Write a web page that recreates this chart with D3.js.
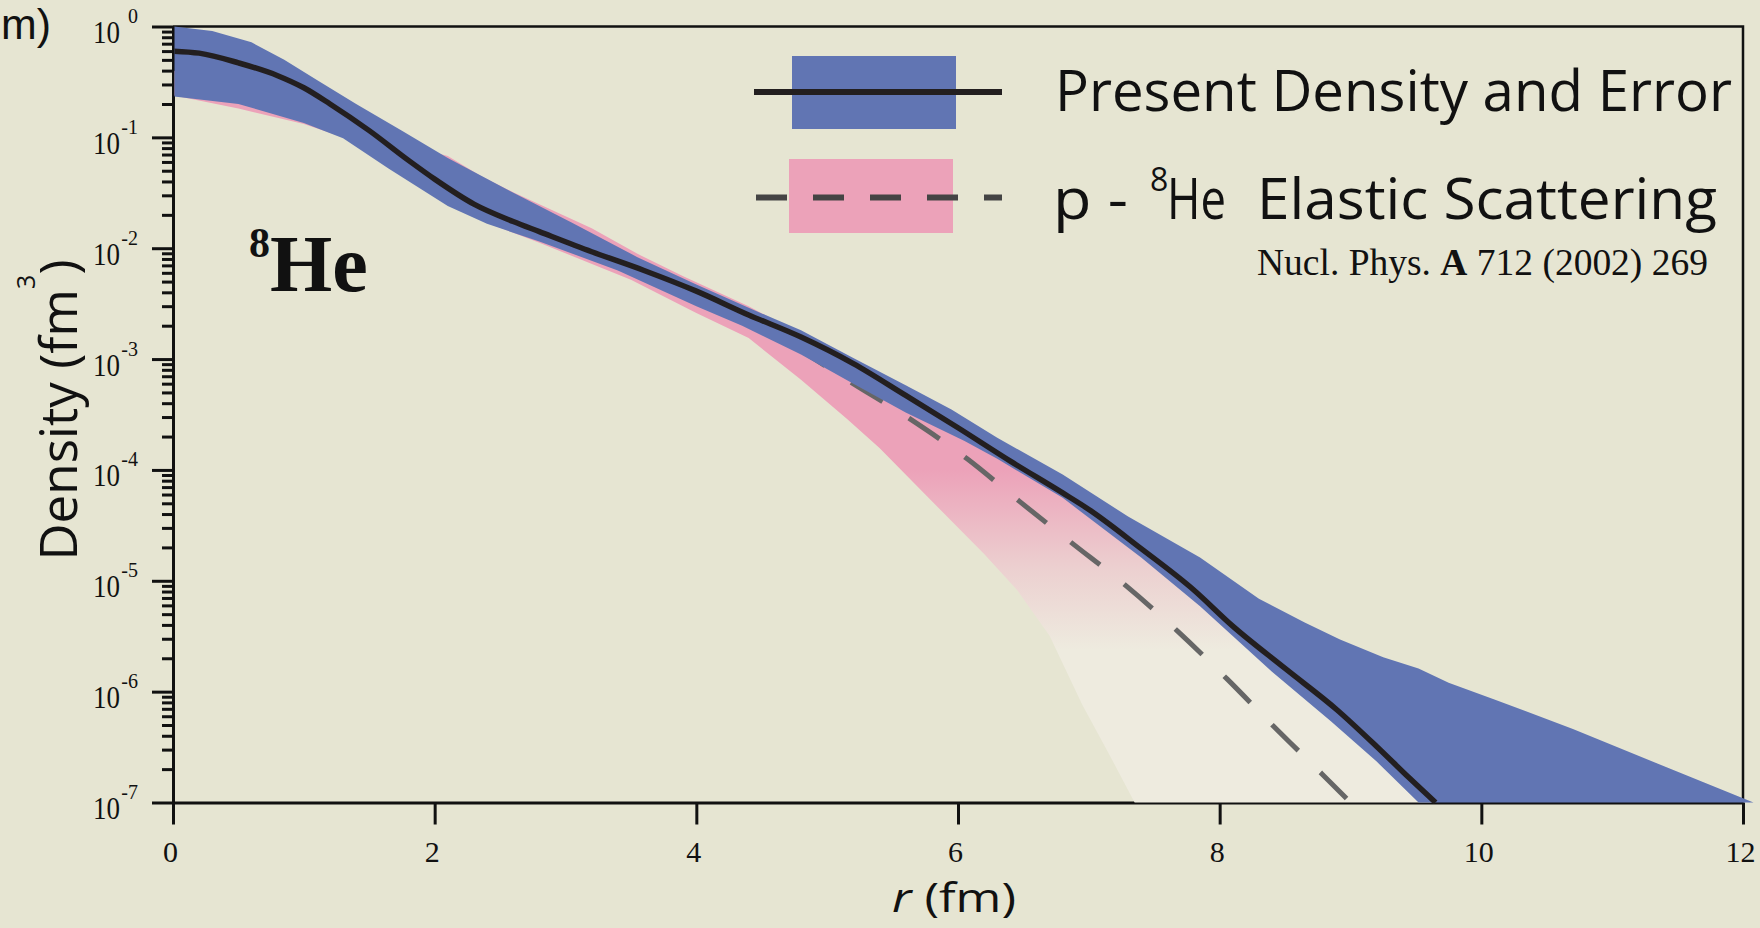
<!DOCTYPE html>
<html>
<head>
<meta charset="utf-8">
<script src="https://cdn.jsdelivr.net/npm/d3@7"></script>
<style>
  html, body { margin: 0; padding: 0; background: #e6e5d2; overflow: hidden; }
  svg { display: block; }
</style>
</head>
<body>
<svg id="chart" width="1760" height="928"></svg>
<script>
// ---- 8He matter density, r in fm, density in fm^-3 ----

// Present density (central curve)
const densityR = [0, 0.2, 0.5, 0.8, 1.0, 1.2, 1.5, 1.8, 2.0, 2.3, 2.6, 2.8, 3.2, 3.6, 4.0, 4.4, 4.8, 5.2, 5.6, 6.0, 6.4, 6.8, 7.0, 7.4, 7.8, 8.1, 8.5, 8.9, 9.2, 9.45, 9.65];
const densityVal = [0.60, 0.575, 0.47, 0.36, 0.28, 0.20, 0.115, 0.062, 0.042, 0.025, 0.0174, 0.0141, 0.0093, 0.0063, 0.0041, 0.0025, 0.00158, 9.1e-4, 4.7e-4, 2.4e-4, 1.2e-4, 6.2e-5, 4.4e-5, 1.95e-5, 8.3e-6, 3.9e-6, 1.62e-6, 6.8e-7, 3.2e-7, 1.66e-7, 1.0e-7];

// Error band of the present density
const errUpperR = [0, 0.3, 0.6, 0.85, 1.1, 1.4, 1.75, 2.1, 2.55, 3.05, 3.55, 4.0, 4.4, 4.8, 5.2, 5.6, 5.95, 6.3, 6.8, 7.3, 7.85, 8.3, 8.65, 8.92, 9.25, 9.52, 9.75, 10.1, 10.7, 11.35, 12.08];
const errUpper = [1.0, 0.91, 0.72, 0.50, 0.33, 0.20, 0.115, 0.065, 0.034, 0.017, 0.0083, 0.0047, 0.0029, 0.00182, 1.02e-3, 5.8e-4, 3.5e-4, 1.95e-4, 9.1e-5, 3.8e-5, 1.62e-5, 6.9e-6, 4.2e-6, 2.95e-6, 2.04e-6, 1.62e-6, 1.2e-6, 8.5e-7, 4.6e-7, 2.24e-7, 1.0e-7];
const errLowerR = [0, 0.5, 1.0, 1.3, 1.65, 2.1, 2.4, 2.8, 3.4, 4.0, 4.35, 4.8, 5.2, 5.6, 6.05, 6.3, 6.8, 7.4, 7.85, 8.4, 8.85, 9.2, 9.52, 12.08];
const errLower = [0.234, 0.20, 0.135, 0.098, 0.052, 0.024, 0.0166, 0.0115, 0.0063, 0.0030, 0.0020, 0.0011, 6.0e-4, 3.3e-4, 1.82e-4, 1.26e-4, 5.6e-5, 1.62e-5, 5.9e-6, 1.51e-6, 5.4e-7, 2.34e-7, 1.0e-7, 1.0e-7];

// p-8He elastic scattering: band and central (dashed) curve
const scatUpperR = [0, 0.5, 1.0, 1.5, 2.1, 2.35, 2.6, 2.9, 3.2, 3.55, 3.9, 4.4, 4.6, 5.0, 5.6, 6.2, 6.8, 7.4, 7.85, 8.4, 8.9, 9.2, 9.65];
const scatUpper = [0.398, 0.316, 0.19, 0.105, 0.068, 0.045, 0.032, 0.022, 0.0151, 0.0089, 0.0056, 0.0030, 0.00224, 0.0012, 4.4e-4, 1.66e-4, 6.0e-5, 1.74e-5, 7.4e-6, 2.0e-6, 6.8e-7, 3.2e-7, 1.0e-7];
const scatLowerR = [0, 0.5, 1.0, 1.3, 1.65, 2.1, 2.4, 2.8, 3.5, 4.0, 4.4, 4.8, 5.15, 5.4, 5.75, 6.2, 6.45, 6.7, 6.95, 7.15, 7.35];
const scatLower = [0.24, 0.182, 0.132, 0.100, 0.055, 0.025, 0.017, 0.0112, 0.0052, 0.0026, 0.00155, 6.5e-4, 2.9e-4, 1.58e-4, 6.0e-5, 1.74e-5, 8.3e-6, 3.2e-6, 7.6e-7, 2.8e-7, 1.0e-7];
const scatR = [0, 1, 2, 3, 4, 4.4, 4.8, 5.18, 5.63, 6.07, 6.47, 6.86, 7.29, 7.68, 8.06, 8.41, 8.78, 9.0];
const scatVal = [0.355, 0.178, 0.040, 0.0126, 0.0038, 0.00234, 0.0012, 6.2e-4, 2.9e-4, 1.26e-4, 5.2e-5, 2.24e-5, 8.9e-6, 3.5e-6, 1.29e-6, 4.9e-7, 1.82e-7, 1.0e-7];

// Axis ticks
const xTicks = [0, 2, 4, 6, 8, 10, 12];
const yExponents = [0, -1, -2, -3, -4, -5, -6, -7];

// ---- layout ----
const svg = d3.select("#chart");
const BG = "#e6e5d2", BLUE = "#6175b3", PINK = "#eca2b9", CREAM = "#eeebdf";
const SERIF = "'Liberation Serif', 'Times New Roman', serif";
const SANS = "'Open Sans', 'Noto Sans', sans-serif";

svg.append("rect").attr("width", 1760).attr("height", 928).attr("fill", BG);

const x = d3.scaleLinear().domain([0, 12]).range([173, 1743]);
const y = d3.scaleLog().domain([1e-7, 1]).range([802.5, 26.5]);

const defs = svg.append("defs");
defs.append("clipPath").attr("id", "plotClip")
  .append("rect").attr("x", 174.5).attr("y", 0).attr("width", 1600).attr("height", 803.5);
const grad = defs.append("linearGradient").attr("id", "scatFade")
  .attr("gradientUnits", "userSpaceOnUse").attr("x1", 0).attr("y1", 470).attr("x2", 0).attr("y2", 650);
grad.append("stop").attr("offset", 0).attr("stop-color", PINK);
grad.append("stop").attr("offset", 0.55).attr("stop-color", "#ecd0d0");
grad.append("stop").attr("offset", 1).attr("stop-color", CREAM);

// ---- axes ----
const yMajor = yExponents.map(k => Math.pow(10, k));
const yMinor = [];
for (let n = -7; n <= -1; n++) for (let k = 2; k <= 9; k++) yMinor.push(k * Math.pow(10, n));

const axisG = svg.append("g");
const yMinorG = axisG.append("g").attr("transform", "translate(173,0)")
  .call(d3.axisLeft(y).tickValues(yMinor).tickSize(11).tickSizeOuter(0).tickFormat(""));
const yMajorG = axisG.append("g").attr("transform", "translate(173,0)")
  .call(d3.axisLeft(y).tickValues(yMajor).tickSize(21).tickSizeOuter(0).tickFormat(""));
const xAxisG = axisG.append("g").attr("transform", "translate(0,802.5)")
  .call(d3.axisBottom(x).tickValues(xTicks).tickSize(22).tickSizeOuter(0).tickFormat(d3.format("d")));

[yMinorG, yMajorG, xAxisG].forEach(g => {
  g.selectAll("path.domain").attr("stroke", "#111").attr("stroke-width", 3);
  g.selectAll(".tick line").attr("stroke", "#111").attr("stroke-width", 3);
});
yMinorG.selectAll(".tick text").remove();
yMajorG.selectAll(".tick text").remove();
yMajorG.selectAll(".tick").each(function (d) {
  const g = d3.select(this);
  const k = Math.round(Math.log10(d));
  g.append("text").attr("x", -53).attr("y", 16).attr("text-anchor", "end")
    .attr("font-family", SERIF).attr("font-size", 31).attr("fill", "#111")
    .attr("textLength", 27).attr("lengthAdjust", "spacingAndGlyphs").text("10");
  g.append("text").attr("x", -35).attr("y", -4).attr("text-anchor", "end")
    .attr("font-family", SERIF).attr("font-size", 20).attr("fill", "#111").text(String(k));
});
xAxisG.selectAll(".tick text")
  .attr("y", 59).attr("dy", 0).attr("dx", -3)
  .attr("font-family", SERIF).attr("font-size", 30).attr("fill", "#111");

// frame (top and right)
axisG.append("path")
  .attr("d", `M${x(0)},${y(1)}H${x(12)}V${y(1e-7)}`)
  .attr("fill", "none").attr("stroke", "#111").attr("stroke-width", 2.5);

// ---- data ----
const plot = svg.append("g").attr("clip-path", "url(#plotClip)");
const line = d3.line().x(d => x(d[0])).y(d => y(d[1])).curve(d3.curveMonotoneX);
const edge = d3.line().x(d => x(d[0])).y(d => y(d[1]));
const zip = (rs, vs) => rs.map((r, i) => [r, vs[i]]);
const band = (rU, vU, rL, vL) => {
  const pts = zip(rU, vU).concat(zip(rL, vL).reverse());
  return edge(pts) + "Z";
};

plot.append("path").attr("d", band(scatUpperR, scatUpper, scatLowerR, scatLower))
  .attr("fill", "url(#scatFade)");
plot.append("path").datum(zip(scatR, scatVal)).attr("d", line)
  .attr("fill", "none").attr("stroke", "#666").attr("stroke-width", 5)
  .attr("stroke-dasharray", "37,31");
plot.append("path").attr("d", band(errUpperR, errUpper, errLowerR, errLower))
  .attr("fill", BLUE);
plot.append("path").datum(zip(densityR, densityVal)).attr("d", line)
  .attr("fill", "none").attr("stroke", "#231f20").attr("stroke-width", 5.5)
  .attr("stroke-linejoin", "round");

// ---- legend ----
const leg = svg.append("g");
leg.append("rect").attr("x", 792).attr("y", 56).attr("width", 164).attr("height", 73).attr("fill", BLUE);
leg.append("line").attr("x1", 754).attr("x2", 1002).attr("y1", 92).attr("y2", 92)
  .attr("stroke", "#231f20").attr("stroke-width", 6);
leg.append("rect").attr("x", 789).attr("y", 159).attr("width", 164).attr("height", 74).attr("fill", PINK);
leg.append("line").attr("x1", 756).attr("x2", 1002).attr("y1", 197.5).attr("y2", 197.5)
  .attr("stroke", "#444").attr("stroke-width", 6).attr("stroke-dasharray", "31,26");

leg.append("text").attr("x", 1055).attr("y", 111)
  .attr("font-family", SANS).attr("font-size", 57).attr("fill", "#111")
  .attr("textLength", 677).attr("lengthAdjust", "spacingAndGlyphs")
  .text("Present Density and Error");
leg.append("text").attr("x", 1053).attr("y", 219)
  .attr("font-family", SANS).attr("font-size", 57).attr("fill", "#111")
  .attr("textLength", 75).attr("lengthAdjust", "spacingAndGlyphs").text("p -");
leg.append("text").attr("x", 1150).attr("y", 191)
  .attr("font-family", SANS).attr("font-size", 32).attr("fill", "#111").text("8");
leg.append("text").attr("x", 1167).attr("y", 219)
  .attr("font-family", SANS).attr("font-size", 57).attr("fill", "#111")
  .attr("textLength", 59).attr("lengthAdjust", "spacingAndGlyphs").text("He");
leg.append("text").attr("x", 1257).attr("y", 219)
  .attr("font-family", SANS).attr("font-size", 57).attr("fill", "#111")
  .attr("textLength", 460).attr("lengthAdjust", "spacingAndGlyphs").text("Elastic Scattering");

const ref = leg.append("text").attr("x", 1257).attr("y", 275)
  .attr("font-family", SERIF).attr("font-size", 37).attr("fill", "#111")
  .attr("textLength", 451).attr("lengthAdjust", "spacingAndGlyphs");
ref.append("tspan").text("Nucl. Phys. ");
ref.append("tspan").attr("font-weight", "bold").text("A");
ref.append("tspan").text(" 712 (2002) 269");

// ---- nucleus label ----
svg.append("text").attr("x", 249).attr("y", 257)
  .attr("font-family", SERIF).attr("font-weight", "bold").attr("font-size", 42).attr("fill", "#111").text("8");
svg.append("text").attr("x", 270).attr("y", 291)
  .attr("font-family", SERIF).attr("font-weight", "bold").attr("font-size", 80).attr("fill", "#111").text("He");

// ---- axis titles ----
const yTitle = svg.append("text")
  .attr("transform", "translate(77,410) rotate(-90)")
  .attr("text-anchor", "middle")
  .attr("font-family", SANS).attr("font-size", 52).attr("fill", "#111")
  .attr("textLength", 301).attr("lengthAdjust", "spacingAndGlyphs");
yTitle.append("tspan").text("Density (fm");
yTitle.append("tspan").attr("font-size", 26).attr("dy", -42).text("3");
yTitle.append("tspan").attr("dy", 42).text(")");

const xTitle = svg.append("text").attr("x", 892).attr("y", 912)
  .attr("font-family", SANS).attr("font-size", 41).attr("fill", "#111")
  .attr("textLength", 124).attr("lengthAdjust", "spacingAndGlyphs");
xTitle.append("tspan").attr("font-style", "italic").text("r");
xTitle.append("tspan").text(" (fm)");

// unit fragment at the top-left corner
svg.append("text").attr("x", 1).attr("y", 39)
  .attr("font-family", "'Liberation Sans', Arial, sans-serif").attr("font-size", 42).attr("fill", "#111")
  .attr("textLength", 50).attr("lengthAdjust", "spacingAndGlyphs").text("m)");
</script>
</body>
</html>
